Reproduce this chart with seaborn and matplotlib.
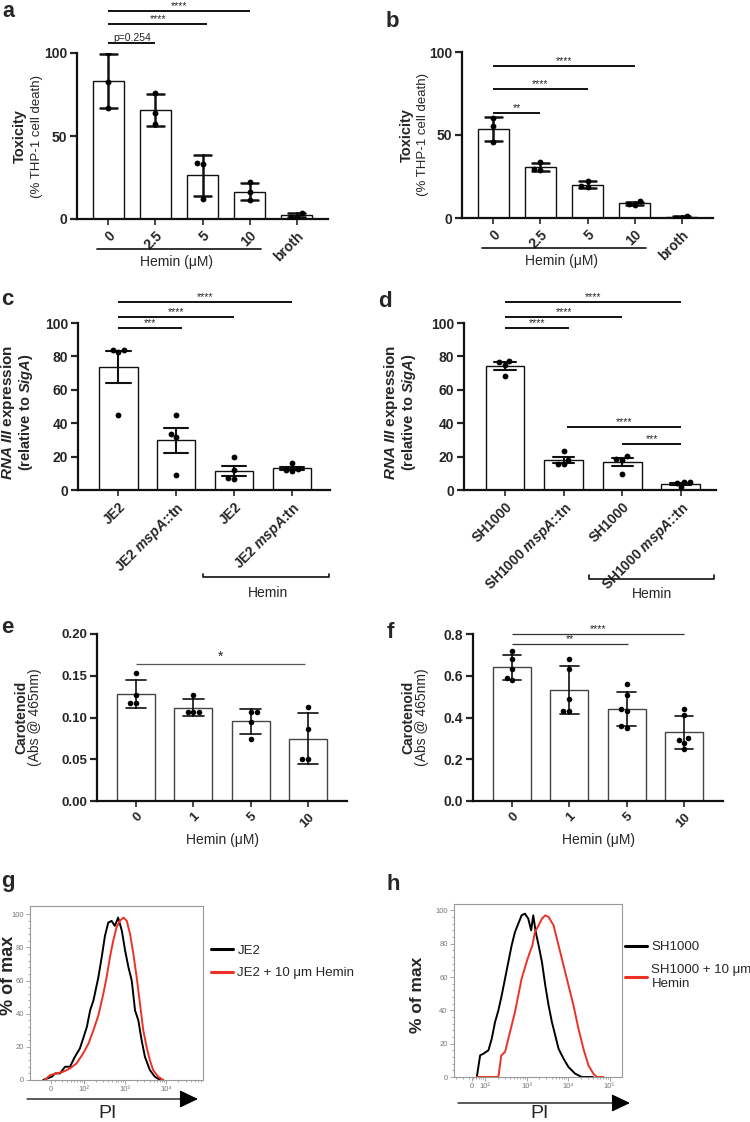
import numpy as np
import pandas as pd
import matplotlib
matplotlib.use('Agg')
import matplotlib.pyplot as plt
import seaborn as sns

sns.set_style('ticks')
plt.rcParams['font.family'] = ['Liberation Sans', 'DejaVu Sans']
plt.rcParams['mathtext.fontset'] = 'custom'
plt.rcParams['mathtext.rm'] = 'Liberation Sans:bold'
plt.rcParams['mathtext.it'] = 'Liberation Sans:italic:bold'
plt.rcParams['mathtext.bf'] = 'Liberation Sans:bold'

# ---- data -------------------------------------------------------------
# a/b: toxicity (% THP-1 cell death), mean +/- SD
tox_groups = ['0', '2.5', '5', '10', 'broth']
tox_a = [[100, 82.5, 67], [76, 64, 57], [34, 33, 12], [22, 16, 11.5], [3.5, 1.5, 1.5]]
tox_b = [[60, 55.5, 45.5], [33.5, 29.5, 29], [22.5, 19, 18.5], [10, 8.5, 8], [1.5, 0.2, 0]]

# c/d: RNA III expression relative to SigA, mean +/- SEM
rna_groups = ['wt', 'mut', 'wt_hemin', 'mut_hemin']
rna_c_labels = ['JE2', 'JE2 $mspA$::tn', 'JE2', 'JE2 $mspA$:tn']
rna_d_labels = ['SH1000', 'SH1000 $mspA$::tn', 'SH1000', 'SH1000 $mspA$::tn']
rna_c = [[84, 84, 82.5, 45], [45, 33.5, 32, 9], [20, 12, 7, 6.5], [16, 12.5, 12, 11.5]]
rna_d = [[77.5, 76.5, 75, 68], [23.5, 18, 15.5, 15.5], [20.5, 18.5, 18, 9.5], [4.5, 4.5, 4, 1.5]]

# e/f: carotenoid (Abs @ 465nm), mean +/- SD
car_groups = ['0', '1', '5', '10']
car_e = [[0.153, 0.127, 0.117, 0.117], [0.127, 0.107, 0.107, 0.106],
         [0.106, 0.106, 0.095, 0.074], [0.113, 0.086, 0.050, 0.050]]
car_f = [[0.72, 0.68, 0.63, 0.59, 0.58], [0.68, 0.63, 0.49, 0.43, 0.43],
         [0.56, 0.51, 0.44, 0.43, 0.35, 0.36], [0.44, 0.41, 0.30, 0.29, 0.28, 0.25]]

# g/h: PI histograms (x = display decade position, y = % of max)
g_black_x = [1.02, 1.23, 1.31, 1.43, 1.55, 1.67, 1.79, 1.91, 1.99, 2.08, 2.16, 2.24, 2.36, 2.44,
             2.52, 2.60, 2.68, 2.76, 2.84, 2.93, 3.01, 3.09, 3.17, 3.25, 3.33, 3.41, 3.49, 3.61,
             3.73, 3.86]
g_black_y = [0, 2, 4, 4, 8, 8, 14, 19, 25, 32, 42, 48, 62, 74, 87, 95, 96, 93, 98, 90, 78, 68,
             60, 42, 36, 24, 14, 6, 2, 0]
g_red_x = [1.06, 1.19, 1.35, 1.51, 1.67, 1.83, 1.99, 2.12, 2.24, 2.36, 2.48, 2.56, 2.64, 2.72,
           2.80, 2.88, 2.97, 3.05, 3.13, 3.21, 3.29, 3.37, 3.45, 3.53, 3.61, 3.69, 3.81, 3.94]
g_red_y = [0, 3, 4, 5, 7, 10, 16, 22, 30, 39, 52, 62, 74, 84, 92, 96, 98, 96, 88, 76, 62, 46,
           30, 20, 12, 6, 2, 0]
h_black_x = [1.80, 1.88, 1.96, 2.08, 2.16, 2.24, 2.32, 2.40, 2.48, 2.56, 2.64, 2.72, 2.80,
             2.88, 2.96, 3.04, 3.11, 3.16, 3.22, 3.29, 3.37, 3.45, 3.53, 3.61, 3.69, 3.77, 3.89,
             4.01, 4.17, 4.33, 4.6]
h_black_y = [0, 13, 14, 16, 23, 33, 40, 49, 59, 69, 79, 87, 92, 97, 98, 95, 88, 97, 87, 79,
             69, 55, 43, 33, 25, 17, 11, 6, 2, 0, 0]
h_red_x = [1.80, 2.32, 2.39, 2.48, 2.56, 2.64, 2.72, 2.80, 2.88, 3.00, 3.08, 3.14, 3.20, 3.29,
           3.37, 3.45, 3.53, 3.65, 3.77, 3.89, 4.01, 4.13, 4.25, 4.37, 4.49, 4.61, 4.69, 4.85]
h_red_y = [0, 0, 13, 15, 23, 31, 39, 49, 59, 69, 75, 79, 87, 91, 95, 97, 96, 91, 79, 67, 55, 43,
           29, 17, 7, 2, 0, 0]

# ---- layout helpers -----------------------------------------------------
W, H = 750, 1122
fig = plt.figure(figsize=(W / 100, H / 100), dpi=100)


def add_ax(l, r, t, b):
    return fig.add_axes([l / W, 1 - b / H, (r - l) / W, (b - t) / H])


def long_df(groups, values):
    return pd.DataFrame({'group': [g for g, v in zip(groups, values) for _ in v],
                         'value': [x for v in values for x in v]})


def bar_panel(ax, groups, values, errorbar, edge, err_lw, capsize, dot_size, bar_lw=1.0):
    df = long_df(groups, values)
    sns.barplot(data=df, x='group', y='value', order=groups, errorbar=errorbar,
                capsize=capsize, color='white', saturation=1, edgecolor=edge,
                linewidth=bar_lw, width=0.66,
                err_kws={'color': '#111111', 'linewidth': err_lw}, ax=ax)
    sns.swarmplot(data=df, x='group', y='value', order=groups, color='black',
                  size=dot_size, linewidth=0, ax=ax)
    sns.despine(ax=ax)
    ax.set_xlabel('')
    ax.set_ylabel('')
    for s in ['left', 'bottom']:
        ax.spines[s].set_linewidth(1.6)
        ax.spines[s].set_color('#111111')
    ax.tick_params(axis='y', length=5, width=1.6, pad=2)
    ax.tick_params(axis='x', length=4, width=1.2, pad=3)


def sig(ax, x0, x1, y, text, lw=1.4, color='#111111', fs=7.5):
    ax.plot([x0, x1], [y, y], color=color, lw=lw, clip_on=False, solid_capstyle='butt')
    ax.text((x0 + x1) / 2, y, text, ha='center', va='bottom', fontsize=fs, clip_on=False)


def ylab2(x1, x2, yc, line1, line2, w1='bold', w2='normal', fs1=10.5, fs2=9.5):
    fig.text(x1 / W, 1 - yc / H, line1, rotation=90, ha='center', va='center',
             fontsize=fs1, fontweight=w1)
    fig.text(x2 / W, 1 - yc / H, line2, rotation=90, ha='center', va='center',
             fontsize=fs2, fontweight=w2)


def letter(x, y, s, fs=16):
    fig.text(x / W, 1 - y / H, s, fontsize=fs, fontweight='bold', ha='left', va='baseline')


def xlabels(ax, labels, fs=10):
    ax.set_xticks(range(len(labels)), labels, rotation=45, ha='right',
                  rotation_mode='anchor', fontweight='bold', fontsize=fs)


# ---- a / b --------------------------------------------------------------
ax_a = add_ax(77, 328, 53, 219)
ax_b = add_ax(462, 713, 52, 218)
for ax, vals in [(ax_a, tox_a), (ax_b, tox_b)]:
    bar_panel(ax, tox_groups, vals, 'sd', '#111111', 1.8, 0.36, 4.2)
    ax.set_ylim(0, 100)
    ax.set_xlim(-0.66, 4.66)
    ax.set_yticks([0, 50, 100], ['0', '50', '100'], fontweight='bold', fontsize=10)
    xlabels(ax, tox_groups)
    tr = ax.get_xaxis_transform()
    ax.plot([-0.24, 3.24], [-0.178, -0.178], color='#111111', lw=1.2, transform=tr,
            clip_on=False)
    ax.text(1.45, -0.26, 'Hemin (\u03bcM)', ha='center', va='center', fontsize=10,
            transform=tr)

sig(ax_a, 0, 1, 106, 'p=0.254', fs=7.5)
sig(ax_a, 0, 2.1, 117.5, '****')
sig(ax_a, 0, 3, 125.5, '****')
sig(ax_b, 0, 1, 63, '**')
sig(ax_b, 0, 2, 77.5, '****')
sig(ax_b, 0, 3, 91.5, '****')

letter(2, 17, 'a', fs=15.5)
letter(386, 27, 'b')
ylab2(20, 37, 136, 'Toxicity', '(% THP-1 cell death)')
ylab2(407, 423, 135, 'Toxicity', '(% THP-1 cell death)')

# ---- c / d --------------------------------------------------------------
ax_c = add_ax(78, 330, 323, 490)
bar_panel(ax_c, rna_groups, rna_c, 'se', '#111111', 1.5, 0.42, 4.2)
ax_c.set_xlim(-0.7, 3.66)
ax_d = add_ax(464, 716, 323, 490)
bar_panel(ax_d, rna_groups, rna_d, 'se', '#111111', 1.5, 0.36, 4.2)
ax_d.set_xlim(-0.7, 3.6)
for ax, labels in [(ax_c, rna_c_labels), (ax_d, rna_d_labels)]:
    ax.set_ylim(0, 100)
    ax.set_yticks(range(0, 101, 20), [str(v) for v in range(0, 101, 20)],
                  fontweight='bold', fontsize=10)
    xlabels(ax, labels)

tr = ax_c.get_xaxis_transform()
ax_c.plot([1.47, 1.47, 3.64, 3.64], [-0.50, -0.52, -0.52, -0.50], color='#111111', lw=1.2,
          transform=tr, clip_on=False)
ax_c.text(2.58, -0.615, 'Hemin', ha='center', va='center', fontsize=10, transform=tr)
tr = ax_d.get_xaxis_transform()
ax_d.plot([1.44, 1.44, 3.56, 3.56], [-0.51, -0.53, -0.53, -0.51], color='#111111', lw=1.2,
          transform=tr, clip_on=False)
ax_d.text(2.5, -0.62, 'Hemin', ha='center', va='center', fontsize=10, transform=tr)

sig(ax_c, 0, 1.1, 97, '***')
sig(ax_c, 0, 2, 103.6, '****')
sig(ax_c, 0, 3, 112.6, '****')
sig(ax_d, 0, 1.1, 97, '****')
sig(ax_d, 0, 2, 103.6, '****')
sig(ax_d, 0, 3, 112.6, '****')
sig(ax_d, 1.05, 3, 37.7, '****')
sig(ax_d, 2, 3, 27.5, '***')

letter(1, 305, 'c')
letter(378, 307, 'd')
ylab2(8, 26, 412, '$RNA$ $III$ expression', '(relative to $SigA$)', w1='bold', w2='bold',
      fs1=11, fs2=10.5)
ylab2(391, 409, 412, '$RNA$ $III$ expression', '(relative to $SigA$)', w1='bold', w2='bold',
      fs1=11, fs2=10.5)

# ---- e / f --------------------------------------------------------------
ax_e = add_ax(97, 347, 634, 801)
bar_panel(ax_e, car_groups, car_e, 'sd', '#444444', 1.2, 0.36, 4.0)
ax_e.set_ylim(0, 0.20)
ax_e.set_yticks([0, 0.05, 0.10, 0.15, 0.20], ['0.00', '0.05', '0.10', '0.15', '0.20'],
                fontweight='bold', fontsize=9.5)
ax_f = add_ax(473, 723, 634, 801)
bar_panel(ax_f, car_groups, car_f, 'sd', '#444444', 1.2, 0.33, 4.0)
ax_f.set_ylim(0, 0.8)
ax_f.set_yticks([0, 0.2, 0.4, 0.6, 0.8], ['0.0', '0.2', '0.4', '0.6', '0.8'],
                fontweight='bold', fontsize=10)
for ax in (ax_e, ax_f):
    ax.set_xlim(-0.68, 3.68)
    xlabels(ax, car_groups, fs=9.5)
    ax.text(0.5, -0.235, 'Hemin (\u03bcM)', ha='center', va='center', fontsize=10,
            transform=ax.transAxes)

sig(ax_e, 0, 2.95, 0.164, '*', lw=0.9, color='#555555', fs=10)
sig(ax_f, 0, 3, 0.8, '****', lw=0.9, color='#333333')
sig(ax_f, 0, 2.03, 0.752, '**', lw=0.9, color='#333333')

letter(1, 633, 'e')
letter(387, 638, 'f')
ylab2(21, 35, 717, 'Carotenoid', '(Abs @ 465nm)', fs1=10, fs2=10)
ylab2(408, 422, 717, 'Carotenoid', '(Abs @ 465nm)', fs1=10, fs2=10)

# ---- g / h --------------------------------------------------------------
sup = ['0', '10\u00b2', '10\u00b3', '10\u2074', '10\u2075']


def hist_panel(ax, bx, by, rx, ry, labels, xlim, ylim, xt, anchor):
    sns.lineplot(x=bx, y=by, color='black', lw=1.4, sort=False, ax=ax, label=labels[0])
    sns.lineplot(x=rx, y=ry, color='#ee3124', lw=1.4, sort=False, ax=ax, label=labels[1])
    ax.set_xlim(*xlim)
    ax.set_ylim(*ylim)
    ax.set_xlabel('')
    ax.set_ylabel('')
    for s in ax.spines.values():
        s.set_color('#999999')
        s.set_linewidth(0.8)
    ax.set_yticks(range(0, 101, 20), [str(v) for v in range(0, 101, 20)])
    ax.set_yticks(np.arange(0, 101, 4), minor=True)
    ax.set_xticks(xt, sup[:len(xt)])
    minor = [k + np.log10(m) for k in range(1, 6) for m in range(2, 10)
             if xlim[0] < k + np.log10(m) < xlim[1]]
    ax.set_xticks(minor, minor=True)
    ax.tick_params(which='both', color='#999999', labelcolor='#777777', labelsize=5.5,
                   width=0.6, pad=1.5)
    ax.tick_params(which='major', length=3)
    ax.tick_params(which='minor', length=1.5)
    leg = ax.legend(loc='upper left', bbox_to_anchor=anchor, frameon=False, borderaxespad=0,
                    borderpad=0, handlelength=1.7, handletextpad=0.3, labelspacing=0.8,
                    fontsize=9.5)
    for ln in leg.get_lines():
        ln.set_linewidth(2.2)


ax_g = add_ax(30, 203, 906, 1080)
hist_panel(ax_g, g_black_x, g_black_y, g_red_x, g_red_y,
           ['JE2', 'JE2 + 10 \u03bcm Hemin'], (0.7, 4.9), (0, 105),
           [1.2, 2, 3, 4], (1.046, 0.78))
ax_h = add_ax(454, 622, 904, 1077)
hist_panel(ax_h, h_black_x, h_black_y, h_red_x, h_red_y,
           ['SH1000', 'SH1000 + 10 \u03bcm\nHemin'], (1.25, 5.3), (0, 103.8),
           [1.69, 2, 3, 4, 5], (1.018, 0.786))

fig.text(8.5 / W, 1 - 975 / H, '% of max', rotation=90, ha='center', va='center',
         fontsize=13, fontweight='bold')
fig.text(418 / W, 1 - 995 / H, '% of max', rotation=90, ha='center', va='center',
         fontsize=12.5, fontweight='bold')
for x0, x1, y, xt in [(27, 198, 1099, 108), (458, 630, 1103, 540)]:
    ax_g.annotate('', xy=(x1, H - y), xytext=(x0, H - y), xycoords='figure pixels',
                  arrowprops=dict(arrowstyle='-|>,head_length=1.15,head_width=0.55',
                                  lw=0.9, color='black', mutation_scale=10,
                                  shrinkA=0, shrinkB=0))
    fig.text(xt / W, 1 - 1114 / H, 'PI', ha='center', va='center', fontsize=14)

letter(1, 887, 'g')
letter(387, 890, 'h')

fig.savefig('out.png', dpi=100)
